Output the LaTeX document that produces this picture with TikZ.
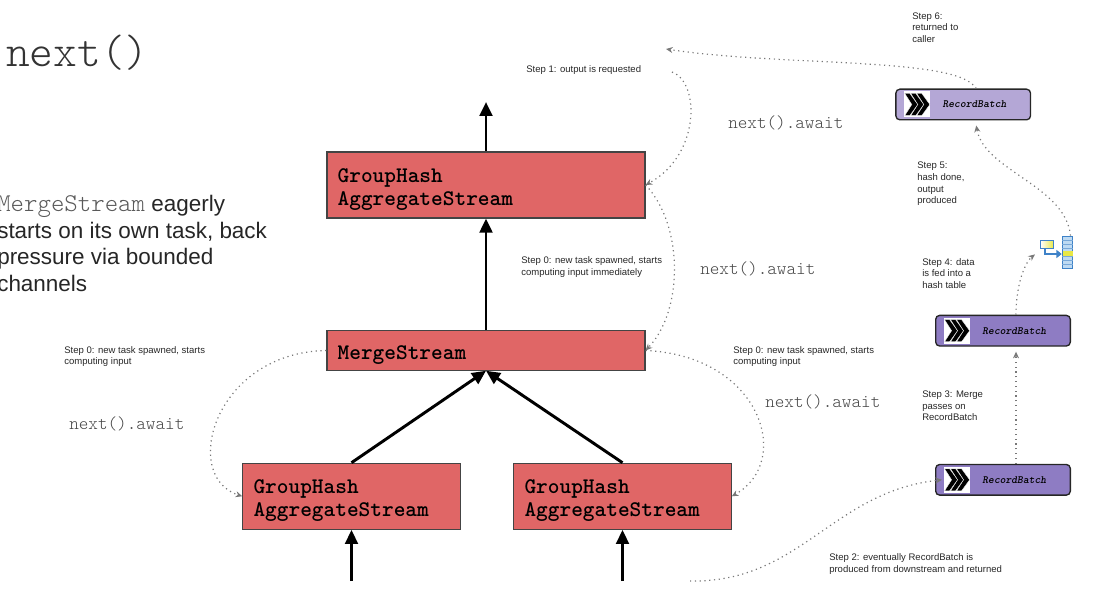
\documentclass[tikz,border=0pt]{standalone}
\usepackage{xcolor}
\usepackage{fontspec}
\setmainfont{Liberation Sans}
\setsansfont{Liberation Sans}
\setmonofont{Latin Modern Mono Light}
\usepackage{tikz}
\usetikzlibrary{arrows.meta, positioning, calc}
\definecolor{opRed}{RGB}{224,102,102}
\definecolor{opEdge}{RGB}{68,68,68}
\definecolor{rbPurple}{RGB}{142,124,195}
\definecolor{rbLight}{RGB}{180,167,214}
\definecolor{awaitGrey}{RGB}{70,70,70}
\definecolor{dotGrey}{RGB}{120,120,120}
\definecolor{hashBlue}{RGB}{62,130,200}
\definecolor{hashPale}{RGB}{190,218,242}
\definecolor{hashYellow}{RGB}{232,232,70}

\begin{document}
\begin{tikzpicture}[
    x=0.75pt, y=-0.75pt,
    font=\sffamily,
    opbox/.style={draw=opEdge, fill=opRed, line width=0.9pt, align=left,
                  inner xsep=8pt, inner ysep=0pt,
                  execute at begin node={\rule{0pt}{17pt}},
                  font=\fontsize{16.7}{17.2}\selectfont\ttfamily\bfseries},
    rbbox/.style={draw=black!85, fill=rbPurple, rounded corners=3pt, line width=1pt,
                  minimum width=101pt, minimum height=23pt, inner sep=0pt,
                  font=\fontsize{8.3}{9}\selectfont\ttfamily\bfseries\itshape},
    flow/.style={-{Triangle[length=10.5pt, width=9.5pt]}, line width=2.2pt, draw=black},
    wait/.style={-{Stealth[length=5pt, width=4.5pt]}, dash pattern=on 0.9pt off 2.7pt,
                 line width=0.9pt, draw=dotGrey},
    note/.style={anchor=west, align=left, inner sep=0pt, text=black!85,
                 font=\fontsize{7.15}{8.7}\selectfont},
    awaitlbl/.style={anchor=west, inner sep=0pt, text=awaitGrey,
                     font=\fontsize{13.7}{15}\selectfont\ttfamily},
    chevs/.pic={
      \fill[white] (0,-13) rectangle (26,13);
      \foreach \i in {1,7,13}
        \fill[black, draw=white, line width=0.25pt]
          (\i,-11) -- (\i+5,-11) -- (\i+13,0) -- (\i+5,11) -- (\i,11) -- (\i+7,0) -- cycle;
    }
]
\useasboundingbox (0,0) rectangle (1093,592);

% title and side text
\node[anchor=west, inner sep=0pt, font=\fontsize{33.9}{36}\selectfont\ttfamily, text=black!80] (title) at (6,53) {next()};
\node[anchor=north west, inner sep=0pt, align=left, text=black!85,
      font=\fontsize{16.85}{19.9}\selectfont] (side) at (-3,195)
  {{\fontsize{19.2}{19.9}\selectfont\ttfamily\color{black!65}MergeStream} eagerly\\
   starts on its own task, back\\
   pressure via bounded\\
   channels};

% operators
\node[opbox, minimum width=238.5pt, text width=222.5pt, minimum height=49.5pt] (gha) at (486,185) {GroupHash\\AggregateStream};
\node[opbox, minimum width=238.5pt, text width=222.5pt, minimum height=29.5pt] (merge) at (486,350.5) {MergeStream};
\node[opbox, minimum width=163pt, text width=147pt, minimum height=49.5pt] (ghl) at (351.5,496.3) {GroupHash\\AggregateStream};
\node[opbox, minimum width=163pt, text width=147pt, minimum height=49.5pt] (ghr) at (622.5,496.3) {GroupHash\\AggregateStream};

\coordinate (out) at (486,102);
\coordinate (inl) at (351.5,581);
\coordinate (inr) at (622.5,581);
\draw[flow] (gha.north) -- (out);
\draw[flow] (merge.north) -- (gha.south);
\draw[flow] (ghl.north) -- (merge.south);
\draw[flow] (ghr.north) -- (merge.south);
\draw[flow] (inl) -- (ghl.south);
\draw[flow] (inr) -- (ghr.south);

% record batches
\node[rbbox, fill=rbLight, text depth=0pt] (rb3) at (963.2,104.5) {\hspace*{17pt}RecordBatch};
\node[rbbox, text depth=0pt] (rb2) at (1003,330.7) {\hspace*{17pt}RecordBatch};
\node[rbbox, text depth=0pt] (rb1) at (1003,479.8) {\hspace*{17pt}RecordBatch};
\pic at ($(rb3.west)+(8.6,0)$) {chevs};
\pic at ($(rb2.west)+(8.6,0)$) {chevs};
\pic at ($(rb1.west)+(8.6,0)$) {chevs};

% hash table icon
\node[draw=hashBlue, left color=white, right color=hashYellow, line width=0.6pt, minimum width=10pt, minimum height=6pt, inner sep=0pt] (hashbox) at (1047,244) {};
\node[draw=hashBlue, fill=hashPale, line width=0.6pt, minimum width=8pt, minimum height=24pt, inner sep=0pt] (hashtab) at (1067.5,252) {};
\foreach \r in {240,244,248,256,260,264}
  \draw[hashBlue!70, line width=0.4pt] (1062,\r) -- (1073,\r);
\fill[hashYellow] (1062.5,250.5) rectangle (1072.5,255.5);
\draw[hashBlue, line width=2pt, -{Triangle[length=4pt, width=6pt]}] ($(hashbox.south)+(-2,0)$) |- (hashtab.west |- 0,254);

% dotted call and return paths
\coordinate (req) at (672,72);
\coordinate (caller) at (666,49);
\coordinate (below) at (690,581);
\draw[wait] (req) .. controls +(28,10) and +(55,-30) .. (gha.east);
\draw[wait] (gha.east) .. controls +(38,40) and +(38,-40) .. (merge.east);
\draw[wait] (merge.east) .. controls +(115,5) and +(62,-35) .. (ghr.east);
\draw[wait] (merge.west) .. controls +(-112,2) and +(-62,-20) .. (ghl.west);
\draw[wait] (below) .. controls +(110,2) and +(-110,12) .. ($(rb1.west)+(7,0)$);
\draw[wait] ($(rb1.north)+(13,0)$) -- ($(rb2.south)+(13,5)$);
\draw[wait] ($(rb2.north)+(13,0)$) .. controls +(0,-30) and +(-10,8) .. ($(hashbox.south west)+(-5,6)$);
\draw[wait] ($(hashtab.north)+(3,0)$) .. controls +(-5,-50) and +(8,45) .. ($(rb3.south)+(13,5)$);
\draw[wait] ($(rb3.north)+(13,0)$) .. controls +(-18,-32) and +(120,18) .. (caller);

% step notes
\node[note] (s1) at (526,70) {Step 1: output is requested};
\node[note] (s0m) at (521,267) {Step 0: new task spawned, starts\\computing input immediately};
\node[note] (s0r) at (733,356.5) {Step 0: new task spawned, starts\\computing input};
\node[note] (s0l) at (64,356.5) {Step 0: new task spawned, starts\\computing input};
\node[note] (s2) at (829,564) {Step 2: eventually RecordBatch is\\produced from downstream and returned};
\node[note] (s3) at (922,406) {Step 3: Merge\\passes on\\RecordBatch};
\node[note] (s4) at (922,273.5) {Step 4: data\\is fed into a\\hash table};
\node[note] (s5) at (917,184) {Step 5:\\hash done,\\output\\produced};
\node[note] (s6) at (912,27.5) {Step 6:\\returned to\\caller};

% await labels
\node[awaitlbl] (a1) at (728,123) {next().await};
\node[awaitlbl] (a2) at (700,268.5) {next().await};
\node[awaitlbl] (a3) at (765,402) {next().await};
\node[awaitlbl] (a4) at (69,424) {next().await};

\end{tikzpicture}
\end{document}
